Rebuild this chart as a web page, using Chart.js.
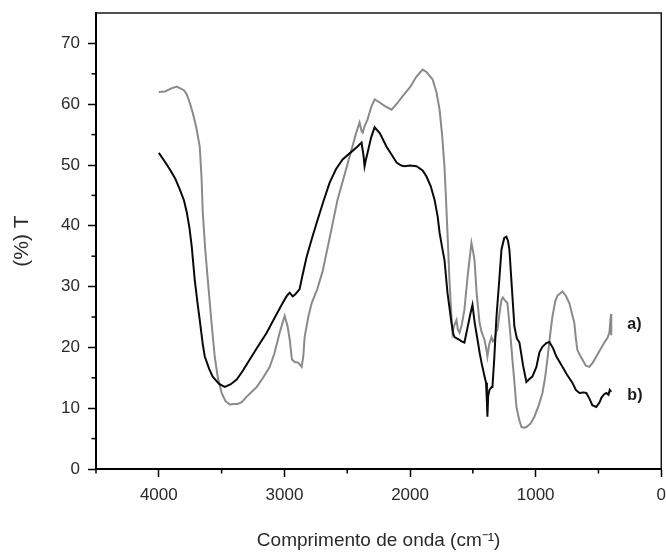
<!DOCTYPE html>
<html><head><meta charset="utf-8">
<script src="https://cdn.jsdelivr.net/npm/chart.js@4.4.1/dist/chart.umd.min.js"></script>
<style>html,body{margin:0;padding:0;background:#fff;overflow:hidden}#wrap{width:666px;height:554px;position:relative;overflow:hidden}</style>
</head><body><div id="wrap"><canvas id="c" width="674" height="554"></canvas></div>
<script>
// Series a) (gray)
const waveA = [4000,3950,3900,3857,3800,3777,3750,3730,3700,3674,3660,3650,3630,3610,3580,3555,3530,3500,3470,3435,3400,3372,3340,3300,3260,3220,3170,3117,3080,3038,3015,2998,2975,2958,2940,2918,2890,2863,2850,2839,2810,2783,2740,2696,2640,2577,2520,2465,2430,2402,2385,2377,2360,2338,2310,2282,2250,2200,2147,2100,2060,2000,1950,1900,1870,1821,1790,1765,1745,1726,1715,1702,1686,1670,1662,1650,1630,1620,1606,1590,1567,1540,1511,1500,1487,1470,1447,1430,1408,1395,1384,1370,1352,1340,1328,1315,1304,1285,1272,1260,1248,1225,1205,1185,1170,1153,1130,1113,1090,1074,1040,1010,975,946,925,907,885,867,845,827,787,760,732,710,692,680,668,650,628,600,573,545,517,490,453,430,413,405,400,398];
const transA = [62.0,62.1,62.6,62.9,62.3,61.6,60.0,58.6,56.0,53.0,48.0,42.2,36.0,31.1,24.0,18.5,15.0,12.5,11.2,10.6,10.7,10.7,11.0,11.9,12.7,13.5,15.0,16.8,19.0,22.4,24.0,25.2,23.5,21.3,18.0,17.6,17.5,16.8,18.5,21.7,25.0,27.3,29.5,32.5,38.0,44.3,48.5,52.6,55.2,57.0,55.5,55.3,56.5,57.5,59.5,60.8,60.4,59.7,59.1,60.2,61.3,62.8,64.5,65.7,65.3,64.1,62.0,59.1,55.0,49.8,45.0,38.9,31.0,25.0,22.4,23.5,24.5,23.0,22.4,23.5,26.2,32.0,37.2,36.0,34.4,29.0,24.1,22.5,21.3,20.0,18.5,20.5,21.7,21.0,21.3,22.5,22.9,26.0,27.8,28.2,27.8,27.3,23.0,18.0,14.5,10.2,8.0,6.9,6.8,6.9,7.5,8.6,10.5,12.5,15.0,18.0,22.0,25.0,27.5,28.5,29.2,28.5,27.3,25.5,24.0,21.5,19.6,18.8,18.0,17.0,16.8,17.5,18.5,19.5,20.8,21.5,22.4,24.5,25.5,22.0];
// Series b) (black)
const waveB = [4000,3950,3913,3870,3833,3800,3777,3755,3738,3714,3690,3674,3650,3634,3600,3571,3520,3475,3430,3380,3330,3276,3210,3141,3080,3014,2980,2958,2934,2915,2894,2879,2860,2823,2780,2743,2690,2640,2590,2537,2465,2420,2386,2370,2362,2350,2338,2310,2282,2240,2187,2150,2107,2070,2044,2000,1948,1900,1869,1835,1805,1780,1765,1745,1726,1702,1686,1670,1655,1646,1610,1590,1567,1540,1520,1503,1485,1463,1445,1431,1410,1395,1388,1384,1378,1368,1350,1344,1330,1312,1290,1272,1250,1233,1220,1209,1190,1169,1150,1129,1100,1074,1050,1026,994,970,946,915,891,860,835,787,750,708,680,652,620,597,570,549,517,490,477,455,437,420,410,398];
const transB = [52.0,50.5,49.3,47.8,46.0,44.2,42.2,39.5,36.6,31.1,27.0,24.5,20.5,18.5,16.5,15.2,14.0,13.5,13.9,14.7,16.2,18.0,20.2,22.4,24.8,27.3,28.5,29.0,28.4,28.7,29.2,29.6,31.5,34.9,38.0,40.5,44.0,47.1,49.3,50.9,52.2,53.0,53.7,51.5,49.8,51.0,52.0,54.5,56.2,55.2,53.0,51.8,50.4,49.9,49.8,49.9,49.8,49.1,48.1,46.5,44.3,41.5,38.9,36.5,34.4,29.0,26.5,24.0,22.2,21.7,21.3,21.0,20.8,23.5,25.5,27.0,24.0,21.3,19.0,17.5,15.5,14.2,11.0,8.6,12.0,13.0,13.5,13.5,18.0,25.0,31.0,36.1,38.0,38.2,37.5,36.1,30.0,23.4,21.5,20.8,17.0,14.3,14.8,15.2,16.8,19.2,20.1,20.7,20.9,19.8,18.5,16.8,15.5,14.2,13.0,12.5,12.6,12.5,11.5,10.5,10.2,11.0,11.7,12.3,12.5,12.2,13.0,12.7];

const xTickValues = [4000,3000,2000,1000,0];
const yTickValues = [0,10,20,30,40,50,60,70];
const xMinorTicks = [4500,3500,2500,1500,500];
const yMinorTicks = [5,15,25,35,45,55,65];
const seriesLabels = ['a)','b)'];

const toPts = (xs, ys) => xs.map((v,i)=>({x:v, y:ys[i]}));
const FONT = '"Liberation Sans", Arial, sans-serif';

const framePlugin = {
  id: 'frame',
  afterDraw(chart){
    const {ctx, chartArea:{left,top,right,bottom}, scales:{x,y}} = chart;
    ctx.save();
    ctx.strokeStyle = '#1a1a1a'; ctx.lineWidth = 1.5;
    ctx.beginPath(); ctx.moveTo(left, top); ctx.lineTo(right, top); ctx.lineTo(right, bottom); ctx.stroke();
    ctx.strokeStyle = '#000'; ctx.lineWidth = 1.5;
    xMinorTicks.forEach(v => { const px = x.getPixelForValue(v); ctx.beginPath(); ctx.moveTo(px, bottom); ctx.lineTo(px, bottom + 4.5); ctx.stroke(); });
    yMinorTicks.forEach(v => { const py = y.getPixelForValue(v); ctx.beginPath(); ctx.moveTo(left - 4.5, py); ctx.lineTo(left, py); ctx.stroke(); });
    ctx.font = 'bold 16px ' + FONT; ctx.fillStyle = '#1a1a1a'; ctx.textBaseline = 'middle'; ctx.textAlign = 'left';
    ctx.fillText(seriesLabels[0], x.getPixelForValue(270), y.getPixelForValue(23.7));
    ctx.fillText(seriesLabels[1], x.getPixelForValue(270), y.getPixelForValue(12.0));
    ctx.restore();
  }
};

new Chart(document.getElementById('c'), {
  type: 'line',
  data: {
    datasets: [
      { label: 'a)', data: toPts(waveA, transA), borderColor: '#8a8a8a', borderWidth: 2, pointRadius: 0, tension: 0, order: 2 },
      { label: 'b)', data: toPts(waveB, transB), borderColor: '#0a0a0a', borderWidth: 2, pointRadius: 0, tension: 0, order: 1 }
    ]
  },
  options: {
    responsive: false, animation: false,
    layout: { padding: { left: 0, top: 13, right: 4, bottom: 0 } },
    plugins: { legend: { display: false }, tooltip: { enabled: false } },
    scales: {
      x: {
        type: 'linear', min: 0, max: 4500, reverse: true,
        afterBuildTicks: s => { s.ticks = xTickValues.map(v => ({value: v})); },
        afterFit: s => { s.height = 85; },
        ticks: { autoSkip: false, maxRotation: 0, padding: 8, color: '#2a2a2a', font: { family: FONT, size: 17 }, callback: v => String(v) },
        grid: { display: true, drawOnChartArea: false, drawTicks: true, tickLength: 8, tickWidth: 1.5, tickColor: '#000' },
        border: { display: true, color: '#000', width: 2 },
        title: { display: true, text: 'Comprimento de onda (cm⁻¹)', color: '#2a2a2a', font: { family: FONT, size: 19 }, padding: { top: 0, bottom: 2 } }
      },
      y: {
        type: 'linear', min: 0, max: 75,
        afterBuildTicks: s => { s.ticks = yTickValues.map(v => ({value: v})); },
        afterFit: s => { s.width = 96; s.paddingTop = 0; s.paddingBottom = 0; },
        ticks: { autoSkip: false, padding: 8, color: '#2a2a2a', font: { family: FONT, size: 17 }, callback: v => String(v) },
        grid: { display: true, drawOnChartArea: false, drawTicks: true, tickLength: 8, tickWidth: 1.5, tickColor: '#000' },
        border: { display: true, color: '#000', width: 2 },
        title: { display: true, text: '(%) T', color: '#2a2a2a', font: { family: FONT, size: 21 }, padding: { top: 10, bottom: 0 } }
      }
    }
  },
  plugins: [framePlugin]
});
</script></body></html>
